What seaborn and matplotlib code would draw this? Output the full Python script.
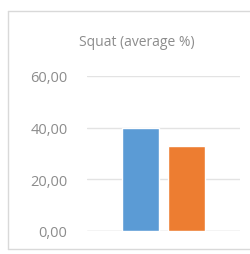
import pandas as pd
import seaborn as sns
import matplotlib.pyplot as plt
from matplotlib.lines import Line2D

# data
groups = ['A', 'B']
values = [39.8, 32.9]
colors = ['#5B9BD5', '#ED7D31']
yticks = [0, 20, 40, 60]

df = pd.DataFrame({'cat': ['Squat', 'Squat'], 'group': groups, 'value': values})

sns.set_style('white')
plt.rcParams['font.family'] = ['Open Sans', 'DejaVu Sans']

fig = plt.figure(figsize=(2.51, 2.55), dpi=100)
# chart frame: left, top, bottom edges only (right edge is cut off)
x0, y0, y1 = 8.5 / 251, 1 - 249.5 / 255, 1 - 11.5 / 255
for xs, ys in [([x0, x0], [y0, y1]), ([x0, 1], [y1, y1]), ([x0, 1], [y0, y0])]:
    fig.add_artist(Line2D(xs, ys, transform=fig.transFigure, color='#d9d9d9', linewidth=1.0))

ax = fig.add_axes([87 / 251, 23 / 255, 153 / 251, 155 / 255])

sns.barplot(data=df, x='cat', y='value', hue='group', palette=colors,
            width=0.60, gap=0.21, legend=False, ax=ax, saturation=1)

ax.set_ylim(0, 60)
ax.set_xlim(-0.5, 0.5)
ax.set_yticks(yticks)
ax.set_yticklabels([f'{t:.2f}'.replace('.', ',') for t in yticks], fontsize=10.5, color='#8c8c8c')
ax.set_xticks([])
ax.set_xlabel('')
ax.set_ylabel('')
ax.tick_params(axis='y', length=0, pad=14)
ax.grid(axis='y', color='#e3e3e3', linewidth=1)
ax.set_axisbelow(True)
for s in ax.spines.values():
    s.set_visible(False)
ax.axhline(0, color='#e3e3e3', linewidth=1, zorder=0)

fig.text(137 / 251, 1 - 42 / 255, 'Squat (average %)', ha='center', va='center',
         fontsize=10, color='#8c8c8c')

fig.savefig('out.png', dpi=100)
